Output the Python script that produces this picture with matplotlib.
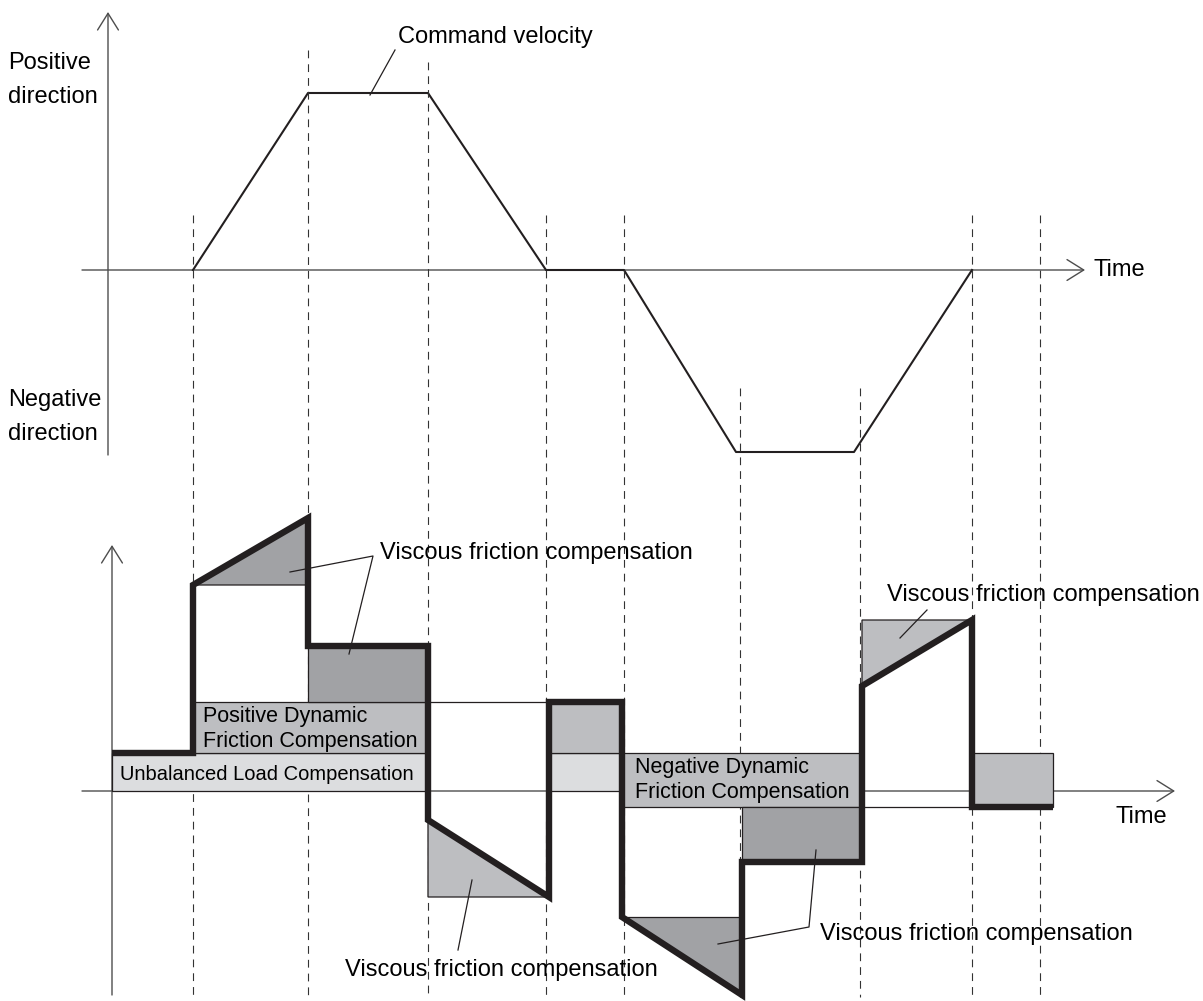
import matplotlib
matplotlib.use('Agg')
import matplotlib.pyplot as plt
from matplotlib.patches import Polygon

plt.rcParams['font.family'] = ['Liberation Sans', 'DejaVu Sans']

# time of each phase change (dashed guide lines)
guide_t = [85, 200, 320, 438, 516, 632, 752, 864, 932]
guide_from = [55, 220, 208, 55, 55, -118, -118, 55, 55]   # top end of each guide in the velocity chart

# command velocity profile
vel_t = [85, 200, 320, 438, 516, 628, 746, 864]
vel_v = [0, 177, 177, 0, 0, -182, -182, 0]

# torque command (thick line)
trq_t = [4, 85, 85, 200, 200, 320, 320, 441, 441, 514, 514, 634, 634, 754, 754, 864, 864, 945]
trq_v = [38, 38, 206, 273, 145, 145, -29, -106, 89, 89, -126, -204, -71, -71, 105, 171, -16, -16]

# compensation blocks: t0, t1, low, high, shade
blocks = [
    (4, 320, 0, 38, 'light'),        # unbalanced load
    (85, 320, 38, 89, 'mid'),        # positive dynamic friction
    (200, 320, 89, 145, 'dark'),     # viscous
    (441, 514, 0, 38, 'light'),
    (441, 514, 38, 89, 'mid'),
    (514, 754, -16, 38, 'mid'),      # negative dynamic friction
    (634, 754, -71, -16, 'dark'),    # viscous
    (864, 945, -16, 38, 'mid'),
]
# viscous triangles: three corners each
tri_t = [(85, 200, 200), (320, 441, 320), (514, 634, 634), (754, 864, 754)]
tri_v = [(206, 273, 206), (-29, -106, -106), (-126, -126, -204), (105, 171, 171)]
tri_shade = ['dark', 'mid', 'dark', 'mid']

shades = {'light': '#dcdddf', 'mid': '#bdbec1', 'dark': '#a1a2a5'}
ink = '#231f20'
big = 17
mid = 15.5
small = 14.5

fig = plt.figure(figsize=(12.03, 10.01), dpi=100)
split = 1 - 480 / 1001
ax1 = fig.add_axes([0, split, 1, 1 - split])
ax2 = fig.add_axes([0, 0, 1, split])
for ax in (ax1, ax2):
    ax.set_xlim(-108, 1095)
    ax.axis('off')
ax1.set_ylim(-210, 270)
ax2.set_ylim(-210, 311)

arrow = dict(arrowstyle='->,head_length=0.8,head_width=0.5', color='#4d4d4d',
             lw=1, mutation_scale=15, shrinkA=0, shrinkB=0)

# ---- dashed guides run through both charts ----
to_lower = ax2.transData.inverted()
for t, y0 in zip(guide_t, guide_from):
    top = to_lower.transform(ax1.transData.transform((t, y0)))[1]
    ax2.plot([t, t], [top, -206], color='#333333', lw=0.8, ls=(0, (7, 5.4)), clip_on=False, zorder=1)

# ---- upper chart: command velocity ----
ax1.annotate('', xy=(0, 258), xytext=(0, -185), arrowprops=arrow)
ax1.annotate('', xy=(977, 0), xytext=(-26, 0), arrowprops=arrow)
ax1.plot(vel_t, vel_v, color=ink, lw=1.5, zorder=3)

ax1.text(-100, 190, 'Positive\ndirection', fontsize=big, ha='left', va='center', linespacing=1.65)
ax1.text(-100, -147, 'Negative\ndirection', fontsize=big, ha='left', va='center', linespacing=1.65)
ax1.text(985, 0, 'Time', fontsize=big, ha='left', va='center')
ax1.text(290, 233, 'Command velocity', fontsize=big, ha='left', va='center')
ax1.plot([287, 262], [220, 175], color=ink, lw=0.9)

# ---- lower chart: torque compensation ----
ax2.annotate('', xy=(4, 246), xytext=(4, -204), arrowprops=arrow)
ax2.annotate('', xy=(1067, 0), xytext=(-26, 0), arrowprops=arrow)

# white areas hide the time axis inside the torque outline
for t0, t1, lo, hi in [(320, 441, -29, 89), (754, 864, -16, 105)]:
    ax2.fill([t0, t1, t1, t0], [lo, lo, hi, hi], color='white', lw=0, zorder=2)

for t0, t1, lo, hi, s in blocks:
    ax2.add_patch(Polygon([(t0, lo), (t1, lo), (t1, hi), (t0, hi)], closed=True,
                          facecolor=shades[s], edgecolor=ink, lw=0.9, zorder=3))
for ts, vs, s in zip(tri_t, tri_v, tri_shade):
    ax2.add_patch(Polygon(list(zip(ts, vs)), closed=True,
                          facecolor=shades[s], edgecolor=ink, lw=0.9, zorder=3))

# dynamic friction levels carried on as thin lines
ax2.plot([320, 441], [89, 89], color=ink, lw=0.9, zorder=3)
ax2.plot([754, 864], [-16, -16], color=ink, lw=0.9, zorder=3)

ax2.plot(trq_t, trq_v, color=ink, lw=4.6, solid_joinstyle='miter', solid_capstyle='butt', zorder=5)

ax2.text(12, 17, 'Unbalanced Load Compensation', fontsize=small, ha='left', va='center', zorder=6)
ax2.text(95, 62, 'Positive Dynamic\nFriction Compensation', fontsize=mid, ha='left', va='center',
         linespacing=1.2, zorder=6)
ax2.text(527, 11, 'Negative Dynamic\nFriction Compensation', fontsize=mid, ha='left', va='center',
         linespacing=1.2, zorder=6)
ax2.text(1007, -26, 'Time', fontsize=big, ha='left', va='center')

ax2.text(272, 238, 'Viscous friction compensation', fontsize=big, ha='left', va='center')
ax2.plot([182, 265, 241], [219, 235, 137], color=ink, lw=0.9, zorder=6)

ax2.text(237, -179, 'Viscous friction compensation', fontsize=big, ha='left', va='center')
ax2.plot([350, 364], [-159, -89], color=ink, lw=0.9, zorder=6)

ax2.text(712, -143, 'Viscous friction compensation', fontsize=big, ha='left', va='center')
ax2.plot([610, 701, 708], [-153, -136, -59], color=ink, lw=0.9, zorder=6)

ax2.text(779, 196, 'Viscous friction compensation', fontsize=big, ha='left', va='center')
ax2.plot([819, 792], [181, 153], color=ink, lw=0.9, zorder=6)

fig.savefig('out.png', dpi=100)
